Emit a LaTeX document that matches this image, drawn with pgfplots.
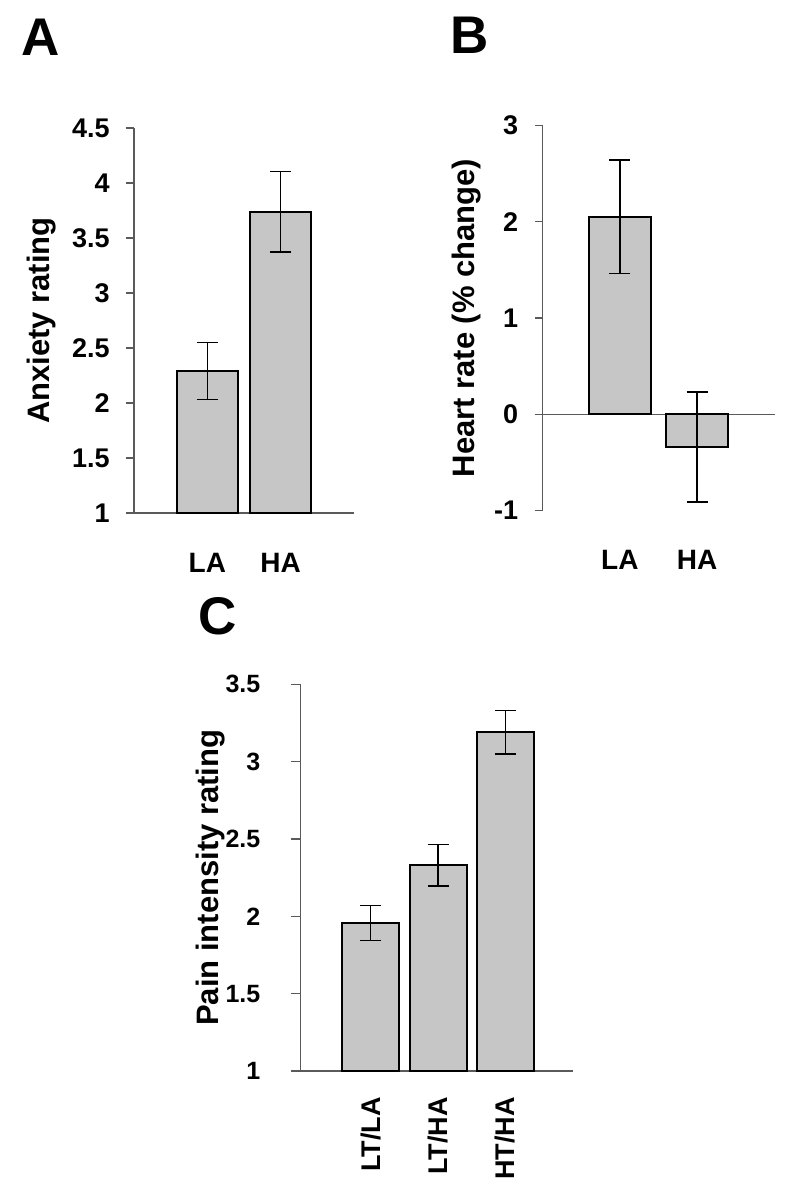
\documentclass[border=0pt]{standalone}
\usepackage{pgfplots}
\pgfplotsset{compat=1.18}
\usepackage{fontspec}
\setmainfont{Liberation Sans}

\definecolor{barfill}{RGB}{198,198,198}
\definecolor{axisgray}{RGB}{90,90,90}

\pgfplotsset{
  panel/.style={
    scale only axis,
    anchor=south west,
    axis x line=bottom,
    axis y line=left,
    axis line style={-, axisgray, line width=0.6bp},
    xtick=data,
    xtick style={draw=none},
    tick align=outside,
    major tick length=4bp,
    ytick style={axisgray, line width=0.6bp},
    ybar,
    bar width=30.5bp,
    yticklabel style={font=\fontsize{13.5bp}{15bp}\selectfont\bfseries, inner sep=0pt, anchor=east, xshift=-8bp},
    ylabel style={font=\fontsize{15.5bp}{18bp}\selectfont\bfseries, inner sep=0pt, anchor=base},
  },
  flatlabels/.style={
    xticklabel style={font=\fontsize{14bp}{16bp}\selectfont\bfseries, inner sep=0pt, anchor=base, yshift=-25.5bp},
  },
  panelbar/.style={
    fill=barfill, draw=black, line width=1bp,
    error bars/.cd, y dir=both, y explicit,
    error bar style={black, line width=0.75bp},
    error mark options={rotate=90, black, mark size=5.25bp, line width=0.75bp},
  },
}

\begin{document}
\begin{tikzpicture}
\useasboundingbox (0,0) rectangle (396bp,-599.5bp);

% A: anxiety
\begin{axis}[panel, flatlabels,
  at={(67bp,-256.5bp)}, width=110bp, height=192.5bp,
  xmin=-1, xmax=2, ymin=1, ymax=4.5,
  ytick={1,1.5,2,2.5,3,3.5,4,4.5},
  yticklabels={1,1.5,2,2.5,3,3.5,4,4.5},
  xticklabels={LA,HA},
  ylabel={Anxiety rating},
  ylabel style={at={(axis description cs:-0.382,0.5)}},
]
\addplot[panelbar] coordinates {
(0,2.29) +- (0,0.26)
(1,3.74) +- (0,0.365)
};
\end{axis}

% B: heart rate
\begin{axis}[panel, flatlabels,
  at={(271.25bp,-255.25bp)}, width=116bp, height=192.5bp,
  xmin=-1, xmax=2, ymin=-1, ymax=3,
  bar width=31bp,
  x axis line style={draw=none},
  ytick={-1,0,1,2,3},
  yticklabels={-1,0,1,2,3},
  extra y ticks={0},
  extra y tick labels={},
  extra y tick style={grid=major, major grid style={axisgray, line width=0.6bp}},
  xticklabels={LA,HA},
  ylabel={Heart rate (\% change)},
  ylabel style={at={(axis description cs:-0.293,0.5)}},
]
\addplot[panelbar] coordinates {
(0,2.05) +- (0,0.59)
(1,-0.34) +- (0,0.57)
};
\end{axis}

% C: pain intensity
\begin{axis}[panel,
  at={(150.35bp,-535.5bp)}, width=136bp, height=193.35bp,
  xmin=-1.04, xmax=3, ymin=1, ymax=3.5,
  bar width=28.5bp,
  major tick length=5bp,
  ytick={1,1.5,2,2.5,3,3.5},
  yticklabels={1,1.5,2,2.5,3,3.5},
  yticklabel style={font=\fontsize{12.5bp}{14bp}\selectfont\bfseries, xshift=-7bp},
  xticklabels={LT/LA,LT/HA,HT/HA},
  xticklabel style={font=\fontsize{13.5bp}{16bp}\selectfont\bfseries, inner sep=0pt, yshift=-8bp, rotate=90, anchor=east},
  ylabel={Pain intensity rating},
  ylabel style={at={(axis description cs:-0.3015,0.5)}},
]
\addplot[panelbar] coordinates {
(0,1.957) +- (0,0.112)
(1,2.33) +- (0,0.135)
(2,3.19) +- (0,0.14)
};
\end{axis}

\node[anchor=base west, inner sep=0pt, font=\fontsize{26.5bp}{30bp}\selectfont\bfseries] at (10.35bp,-27.5bp) {A};
\node[anchor=base west, inner sep=0pt, font=\fontsize{26.5bp}{30bp}\selectfont\bfseries] at (225bp,-26.65bp) {B};
\node[anchor=base west, inner sep=0pt, font=\fontsize{26.5bp}{30bp}\selectfont\bfseries] at (99bp,-317bp) {C};
\end{tikzpicture}
\end{document}
